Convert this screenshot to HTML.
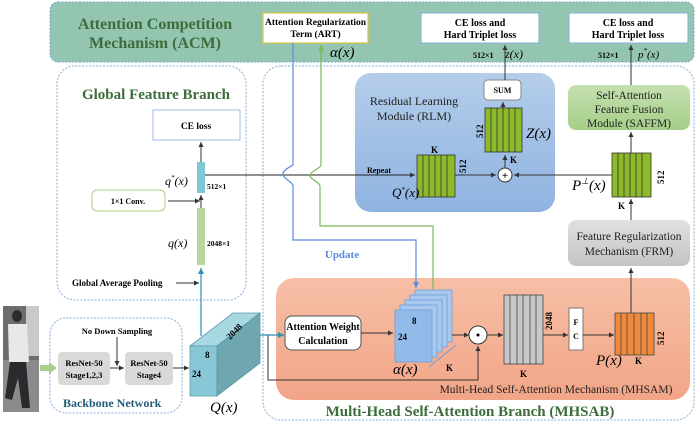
<!DOCTYPE html>
<html><head><meta charset="utf-8"><style>
html,body{margin:0;padding:0;background:#fff;}
svg{display:block;font-family:"Liberation Serif",serif;}
.b{font-weight:bold;}
</style></head><body>
<svg width="696" height="427" viewBox="0 0 696 427" xmlns="http://www.w3.org/2000/svg">
<defs>
<marker id="ak" markerWidth="6" markerHeight="6" refX="5" refY="3" orient="auto"><path d="M0,0.5 L5,3 L0,5.5z" fill="#333"/></marker>
<marker id="ac" markerWidth="6" markerHeight="6" refX="5" refY="3" orient="auto"><path d="M0,0.5 L5,3 L0,5.5z" fill="#2a8fb0"/></marker>
<marker id="ab" markerWidth="6" markerHeight="6" refX="5" refY="3" orient="auto"><path d="M0,0.5 L5,3 L0,5.5z" fill="#5b8be0"/></marker>
<marker id="ag" markerWidth="6" markerHeight="6" refX="5" refY="3" orient="auto"><path d="M0,0.5 L5,3 L0,5.5z" fill="#7cb85a"/></marker>
<linearGradient id="rlm" x1="0" y1="0" x2="0" y2="1"><stop offset="0" stop-color="#b4cdea"/><stop offset="1" stop-color="#8fb3e0"/></linearGradient>
<linearGradient id="sf" x1="0" y1="0" x2="0" y2="1"><stop offset="0" stop-color="#c5e0b0"/><stop offset="1" stop-color="#a5cf88"/></linearGradient>
<linearGradient id="fr" x1="0" y1="0" x2="0" y2="1"><stop offset="0" stop-color="#e0e0e0"/><stop offset="1" stop-color="#c4c4c4"/></linearGradient>
<linearGradient id="mh" x1="0" y1="0" x2="0" y2="1"><stop offset="0" stop-color="#f6bfa6"/><stop offset="1" stop-color="#f2a587"/></linearGradient>
</defs>

<!-- ACM band -->
<rect x="50" y="2" width="644" height="60" rx="8" fill="#94c5b1" stroke="#7aa5cf" stroke-dasharray="2,1.5"/>
<text x="155" y="29" text-anchor="middle" class="b" font-size="16" fill="#3c6d3a">Attention Competition</text>
<text x="155" y="48" text-anchor="middle" class="b" font-size="16" fill="#3c6d3a">Mechanism  (ACM)</text>
<rect x="263" y="13" width="105" height="30" fill="#fff" stroke="#d4c84a" stroke-width="1.2"/>
<text x="315.5" y="25" text-anchor="middle" class="b" font-size="9.5">Attention Regularization</text>
<text x="315.5" y="37" text-anchor="middle" class="b" font-size="9.5">Term (ART)</text>
<text x="330" y="57" font-size="15" font-style="italic">α(x)</text>
<rect x="421" y="13" width="118" height="30" fill="#fff" stroke="#8aaedb"/>
<text x="480" y="26" text-anchor="middle" class="b" font-size="10">CE loss and</text>
<text x="480" y="38" text-anchor="middle" class="b" font-size="10">Hard Triplet  loss</text>
<rect x="569" y="13" width="119" height="30" fill="#fff" stroke="#8aaedb"/>
<text x="628" y="26" text-anchor="middle" class="b" font-size="10">CE loss and</text>
<text x="628" y="38" text-anchor="middle" class="b" font-size="10">Hard Triplet  loss</text>
<text x="473" y="58" class="b" font-size="8">512×1</text>
<text x="505" y="58" font-size="12" font-style="italic">z(x)</text>
<text x="598" y="58" class="b" font-size="8">512×1</text>
<text x="638" y="58" font-size="11" font-style="italic">p<tspan dy="-5" font-size="7">*</tspan><tspan dy="5">(x)</tspan></text>

<!-- Global Feature Branch -->
<rect x="57" y="66" width="189" height="234" rx="18" fill="none" stroke="#8aaedb" stroke-dasharray="2,1.5"/>
<text x="156" y="99" text-anchor="middle" class="b" font-size="15" fill="#3c6d3a">Global  Feature  Branch</text>
<rect x="153" y="110" width="87" height="30" fill="#fff" stroke="#9dbbe4"/>
<text x="196" y="129" text-anchor="middle" class="b" font-size="9.5">CE loss</text>
<line x1="201" y1="162" x2="201" y2="142" stroke="#333" marker-end="url(#ak)"/>
<rect x="197" y="162" width="8" height="31" fill="#7ec8d6"/>
<text x="165" y="185" font-size="12" font-style="italic">q<tspan dy="-5" font-size="7">*</tspan><tspan dy="5">(x)</tspan></text>
<text x="207" y="189" class="b" font-size="7.5">512×1</text>
<rect x="92" y="190" width="73" height="21" rx="5" fill="#fff" stroke="#a8d08a"/>
<text x="128" y="204" text-anchor="middle" class="b" font-size="8">1×1 Conv.</text>
<line x1="168" y1="201" x2="200" y2="201" stroke="#333" marker-end="url(#ak)"/>
<line x1="201" y1="208" x2="201" y2="195" stroke="#333" marker-end="url(#ak)"/>
<rect x="197" y="208" width="8" height="57" fill="#b7d89a"/>
<text x="168" y="247" font-size="12" font-style="italic">q(x)</text>
<text x="207" y="246" class="b" font-size="7.5">2048×1</text>
<text x="72" y="286" class="b" font-size="9">Global Average Pooling</text>
<line x1="176" y1="283" x2="199" y2="283" stroke="#333" marker-end="url(#ak)"/>
<line x1="201" y1="336" x2="201" y2="268" stroke="#2a8fb0" stroke-width="1.2" marker-end="url(#ac)"/>

<!-- MHSAB -->
<rect x="263" y="66" width="431" height="354" rx="18" fill="none" stroke="#8aaedb" stroke-dasharray="2,1.5"/>
<text x="470" y="416" text-anchor="middle" class="b" font-size="15" fill="#3c6d3a">Multi-Head Self-Attention Branch (MHSAB)</text>

<!-- RLM -->
<rect x="355" y="73" width="200" height="139" rx="16" fill="url(#rlm)"/>
<text x="414" y="105" text-anchor="middle" font-size="12" fill="#222">Residual Learning</text>
<text x="414" y="120" text-anchor="middle" font-size="12" fill="#222">Module  (RLM)</text>
<rect x="484" y="80" width="37" height="20" rx="4" fill="#fff" stroke="#888"/>
<text x="502.5" y="93" text-anchor="middle" class="b" font-size="8">SUM</text>
<g stroke="#333" stroke-width="0.8">
<rect x="485" y="108" width="37" height="44" fill="#8dba2a"/>
<line x1="491" y1="108" x2="491" y2="152"/><line x1="497" y1="108" x2="497" y2="152"/><line x1="503" y1="108" x2="503" y2="152"/><line x1="509" y1="108" x2="509" y2="152"/><line x1="515" y1="108" x2="515" y2="152"/>
<rect x="417" y="155" width="38" height="42" fill="#8dba2a"/>
<line x1="423" y1="155" x2="423" y2="197"/><line x1="429" y1="155" x2="429" y2="197"/><line x1="435" y1="155" x2="435" y2="197"/><line x1="441" y1="155" x2="441" y2="197"/><line x1="447" y1="155" x2="447" y2="197"/>
<rect x="612" y="153" width="39" height="44" fill="#8dba2a"/>
<line x1="618" y1="153" x2="618" y2="197"/><line x1="624" y1="153" x2="624" y2="197"/><line x1="630" y1="153" x2="630" y2="197"/><line x1="636" y1="153" x2="636" y2="197"/><line x1="642" y1="153" x2="642" y2="197"/>
</g>
<text transform="translate(483,138) rotate(-90)" class="b" font-size="9">512</text>
<text x="526" y="138" font-size="15" font-style="italic">Z(x)</text>
<text x="510" y="163" class="b" font-size="9">K</text>
<text x="431" y="153" class="b" font-size="9">K</text>
<text transform="translate(466,173) rotate(-90)" class="b" font-size="9">512</text>
<text x="392" y="197" font-size="13" font-style="italic">Q<tspan dy="-5" font-size="7">*</tspan><tspan dy="5">(x)</tspan></text>
<text x="367" y="173" class="b" font-size="8">Repeat</text>
<line x1="503" y1="108" x2="503" y2="102" stroke="#333" marker-end="url(#ak)"/>
<line x1="505" y1="80" x2="505" y2="45" stroke="#333" marker-end="url(#ak)"/>
<line x1="505" y1="168" x2="505" y2="155" stroke="#333" marker-end="url(#ak)"/>
<circle cx="505" cy="175" r="7" fill="#fff" stroke="#333"/>
<text x="505" y="179" text-anchor="middle" class="b" font-size="11">+</text>
<line x1="455" y1="175" x2="496" y2="175" stroke="#333" marker-end="url(#ak)"/>
<line x1="612" y1="175" x2="514" y2="175" stroke="#333" marker-end="url(#ak)"/>
<text x="572" y="190" font-size="15" font-style="italic">P<tspan dy="-6" font-size="9">⊥</tspan><tspan dy="6">(x)</tspan></text>
<text transform="translate(664,184) rotate(-90)" class="b" font-size="9">512</text>
<text x="618" y="209" class="b" font-size="9">K</text>
<!-- main line -->
<line x1="205" y1="175" x2="415" y2="175" stroke="#222" marker-end="url(#ak)"/>

<!-- SAFFM -->
<rect x="568" y="85" width="122" height="45" rx="8" fill="url(#sf)"/>
<text x="629" y="99" text-anchor="middle" font-size="11.5" fill="#222">Self-Attention</text>
<text x="629" y="113" text-anchor="middle" font-size="11.5" fill="#222">Feature Fusion</text>
<text x="629" y="127" text-anchor="middle" font-size="11.5" fill="#222">Module (SAFFM)</text>
<line x1="631" y1="153" x2="631" y2="132" stroke="#333" marker-end="url(#ak)"/>
<line x1="631" y1="85" x2="631" y2="45" stroke="#333" marker-end="url(#ak)"/>
<!-- FRM -->
<rect x="568" y="220" width="122" height="46" rx="8" fill="url(#fr)"/>
<text x="629" y="240" text-anchor="middle" font-size="11.5" fill="#222">Feature Regularization</text>
<text x="629" y="255" text-anchor="middle" font-size="11.5" fill="#222">Mechanism (FRM)</text>
<line x1="631" y1="220" x2="631" y2="199" stroke="#333" marker-end="url(#ak)"/>

<!-- MHSAM -->
<rect x="276" y="278" width="414" height="122" rx="18" fill="url(#mh)"/>
<text x="556" y="393" text-anchor="middle" font-size="11.5" fill="#222">Multi-Head Self-Attention Mechanism (MHSAM)</text>
<line x1="631" y1="313" x2="631" y2="268" stroke="#333" marker-end="url(#ak)"/>
<rect x="285" y="316" width="76" height="34" rx="7" fill="#fff" stroke="#555"/>
<text x="323" y="330" text-anchor="middle" class="b" font-size="10">Attention Weight</text>
<text x="323" y="344" text-anchor="middle" class="b" font-size="10">Calculation</text>
<line x1="361" y1="333" x2="393" y2="333" stroke="#333" marker-end="url(#ak)"/>
<!-- alpha stack -->
<g fill="#a9c8ee" stroke="#6d9edb" stroke-width="0.8">
<rect x="415" y="290" width="37" height="52"/>
<rect x="410" y="295" width="37" height="52"/>
<rect x="405" y="300" width="37" height="52"/>
<rect x="400" y="305" width="37" height="52"/>
<rect x="395" y="310" width="37" height="52" fill="#92bbe9"/>
</g>
<text x="412" y="324" class="b" font-size="9">8</text>
<text x="398" y="340" class="b" font-size="9">24</text>
<path d="M429,367 L456,345" stroke="#6d9edb" fill="none"/>
<text x="393" y="374" font-size="15" font-style="italic">α(x)</text>
<text x="446" y="371" class="b" font-size="9">K</text>
<line x1="452" y1="335" x2="469" y2="335" stroke="#333" marker-end="url(#ak)"/>
<circle cx="478" cy="335" r="9" fill="#fff" stroke="#333"/>
<circle cx="478" cy="335" r="1.5" fill="#000"/>
<line x1="487" y1="335" x2="503" y2="335" stroke="#333" marker-end="url(#ak)"/>
<g stroke="#444" stroke-width="0.8">
<rect x="504" y="295" width="39" height="69" fill="#c8c8c8"/>
<line x1="510" y1="295" x2="510" y2="364"/><line x1="517" y1="295" x2="517" y2="364"/><line x1="523" y1="295" x2="523" y2="364"/><line x1="530" y1="295" x2="530" y2="364"/><line x1="536" y1="295" x2="536" y2="364"/>
<rect x="615" y="313" width="39" height="42" fill="#ef8a3c"/>
<line x1="621" y1="313" x2="621" y2="355"/><line x1="627" y1="313" x2="627" y2="355"/><line x1="634" y1="313" x2="634" y2="355"/><line x1="641" y1="313" x2="641" y2="355"/><line x1="647" y1="313" x2="647" y2="355"/>
</g>
<text transform="translate(552,330) rotate(-90)" class="b" font-size="9">2048</text>
<text x="520" y="377" class="b" font-size="9">K</text>
<line x1="543" y1="335" x2="568" y2="335" stroke="#333" marker-end="url(#ak)"/>
<rect x="569" y="308" width="14" height="42" fill="#fff" stroke="#777"/>
<text x="576" y="325" text-anchor="middle" class="b" font-size="8">F</text>
<text x="576" y="339" text-anchor="middle" class="b" font-size="8">C</text>
<line x1="583" y1="335" x2="614" y2="335" stroke="#333" marker-end="url(#ak)"/>
<text transform="translate(664,345) rotate(-90)" class="b" font-size="9">512</text>
<text x="596" y="365" font-size="15" font-style="italic">P(x)</text>
<text x="635" y="364" class="b" font-size="9">K</text>
<!-- bottom loop from Q -->
<path d="M268,335 L268,380 L478,380 L478,346" stroke="#333" fill="none" marker-end="url(#ak)"/>
<line x1="255" y1="335" x2="284" y2="335" stroke="#2a8fb0" stroke-width="1.2" marker-end="url(#ac)"/>

<!-- blue update line -->
<path d="M293,43 L293,165 C288,168 282,171 283,175 C284,179 293,182 293,186 L293,240 L416,240 L416,288" stroke="#5b8be0" stroke-width="1.2" fill="none" marker-end="url(#ab)"/>
<text x="342" y="258" text-anchor="middle" class="b" font-size="11" fill="#5b8be0">Update</text>
<!-- green line -->
<path d="M433,290 L433,226 L320,226 L320,186 C320,182 309,179 310,175 C311,171 321,168 321,165 L321,45" stroke="#7cb85a" stroke-width="1.2" fill="none" marker-end="url(#ag)"/>

<!-- Backbone -->
<rect x="50" y="318" width="132" height="95" rx="16" fill="none" stroke="#8aaedb" stroke-dasharray="2,1.5"/>
<text x="117" y="334" text-anchor="middle" class="b" font-size="8.5">No  Down Sampling</text>
<rect x="58" y="352" width="52" height="33" rx="4" fill="#d9d9d9"/>
<text x="84" y="366" text-anchor="middle" class="b" font-size="8.5">ResNet-50</text>
<text x="84" y="378" text-anchor="middle" class="b" font-size="8.5">Stage1,2,3</text>
<rect x="125" y="352" width="48" height="33" rx="4" fill="#d9d9d9"/>
<text x="149" y="366" text-anchor="middle" class="b" font-size="8.5">ResNet-50</text>
<text x="149" y="378" text-anchor="middle" class="b" font-size="8.5">Stage4</text>
<line x1="117" y1="337" x2="117" y2="366" stroke="#333" marker-end="url(#ak)"/>
<line x1="110" y1="368" x2="124" y2="368" stroke="#333" marker-end="url(#ak)"/>
<line x1="173" y1="368" x2="189" y2="368" stroke="#333" marker-end="url(#ak)"/>
<text x="63" y="407" class="b" font-size="12" fill="#1f5d7a">Backbone  Network</text>
<!-- person image -->
<rect x="3" y="306" width="36" height="106" fill="#6b6e6e"/>
<rect x="26" y="306" width="13" height="50" fill="#c7c9cb"/>
<path d="M3,360 L39,360 L39,412 L3,412z" fill="#8a8c8c"/>
<ellipse cx="17" cy="316" rx="5" ry="6" fill="#2b2b2b"/>
<path d="M8,324 L27,324 L29,362 L9,362z" fill="#e8e8e6"/>
<path d="M10,362 L26,362 L30,408 L22,408 L18,378 L12,400 L5,398z" fill="#2a2a2e"/>
<path d="M40,368 L50,368" stroke="#a8d08a" stroke-width="6"/>
<path d="M49,362 L57,368 L49,374z" fill="#a8d08a"/>
<!-- cube -->
<path d="M190,346 L217,346 L260,313 L233,313z" fill="#a8d8e2" stroke="#5a9aaa" stroke-width="0.8"/>
<path d="M190,346 L217,346 L217,396 L190,396z" fill="#88c8d6" stroke="#5a9aaa" stroke-width="0.8"/>
<path d="M217,346 L260,313 L260,363 L217,396z" fill="#6fa7b1" stroke="#5a9aaa" stroke-width="0.8"/>
<text x="205" y="358" class="b" font-size="9">8</text>
<text x="192" y="377" class="b" font-size="9">24</text>
<text transform="translate(230,340) rotate(-45)" class="b" font-size="9">2048</text>
<text x="210" y="412" font-size="15" font-style="italic">Q(x)</text>
</svg>
</body></html>
